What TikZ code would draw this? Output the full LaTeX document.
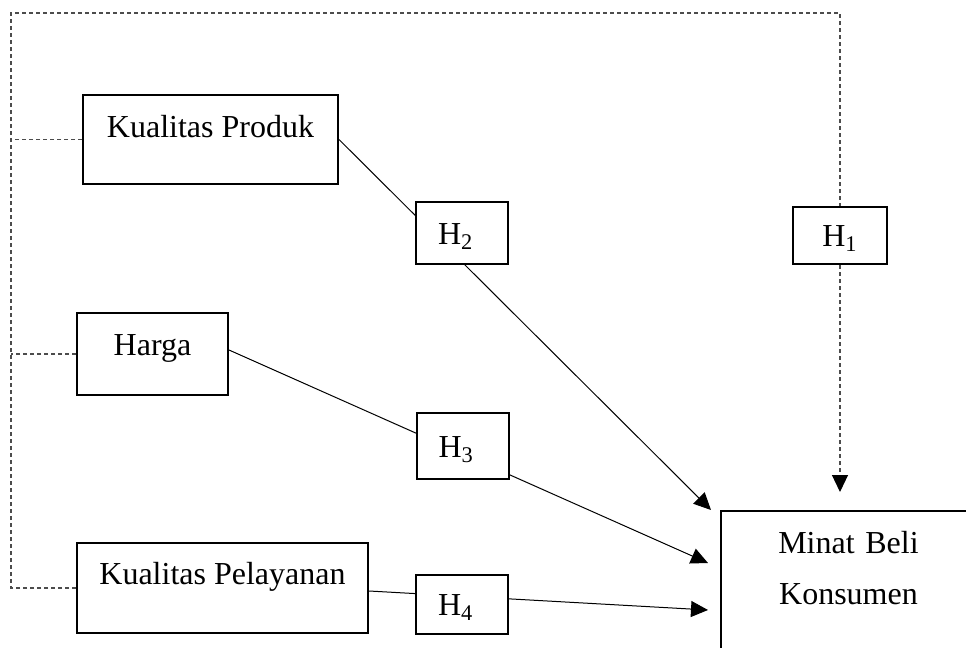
\documentclass[tikz,border=0pt]{standalone}
\usepackage{fontspec}
\setmainfont{Liberation Serif}
\usetikzlibrary{arrows.meta,positioning,calc,backgrounds}

\tikzset{
  varbox/.style={draw, line width=1pt, fill=white, inner sep=0pt,
    font=\fontsize{16}{19}\selectfont, text height=11pt},
  hypbox/.style={varbox, text depth=0pt},
  hypleft/.style={hypbox, text width=24pt, inner xsep=11pt},
  link/.style={line width=0.5pt, -{Triangle[length=8.5pt,width=8pt,color=black]}},
  dashline/.style={line width=0.6pt, black!70, dash pattern=on 2pt off 1.5pt}
}

\begin{document}
\begin{tikzpicture}[x=0.5pt, y=-0.5pt]
  \useasboundingbox (0,0) rectangle (966,648);
  \clip (0,0) rectangle (966,648);

  % Variables
  \node[varbox, minimum width=127.5pt, minimum height=44.5pt, text depth=13.5pt] (kp) at (210.5,139.5) {Kualitas Produk};
  \node[varbox, minimum width=75.5pt, minimum height=41pt, text depth=10pt] (hrg) at (152.5,354) {Harga};
  \node[varbox, minimum width=145.5pt, minimum height=45pt, text depth=15pt] (kpl) at (222.5,588) {Kualitas Pelayanan};
  \node[varbox, anchor=north west, text width=127.5pt, align=center, inner ysep=10pt, text depth=70pt,
    font=\fontsize{16}{25.5}\selectfont] (mb) at (720,510) {Minat Beli\\Konsumen};

  % Hypotheses
  \node[hypbox, minimum width=47pt, minimum height=28.5pt] (h1) at (840,235.5) {H\textsubscript{1}};
  \node[hypleft, minimum height=31pt] (h2) at (462,233) {H\textsubscript{2}};
  \node[hypleft, minimum height=33pt] (h3) at (462.5,446) {H\textsubscript{3}};
  \node[hypleft, minimum height=29.5pt] (h4) at (462,604.5) {H\textsubscript{4}};

  % Arrow ends
  \coordinate (in1) at (840,492);
  \coordinate (in2) at ([xshift=-4.5pt]mb.north west);
  \coordinate (in3) at ([xshift=-6pt,yshift=-26.5pt]mb.north west);
  \coordinate (in4) at ([xshift=-6pt,yshift=-50pt]mb.north west);
  \coordinate (tl) at (11,13);

  % Partial paths (behind the H boxes)
  \begin{pgfonlayer}{background}
    \draw[link] (kp.east) -- (in2);
    \draw[link] ([yshift=2pt]hrg.east) -- (in3);
    \draw[link] ([yshift=-1.5pt]kpl.east) -- (in4);
  \end{pgfonlayer}

  % Simultaneous path
  \draw[dashline] (kpl.west) -| (tl) -| (h1.north);
  \draw[dashline] (kp.west) -- (kp.west -| tl);
  \draw[dashline] (hrg.west) -- (hrg.west -| tl);
  \draw[dashline, -{Triangle[length=8.5pt,width=8pt,color=black]}] (h1.south) -- (in1);
\end{tikzpicture}
\end{document}
